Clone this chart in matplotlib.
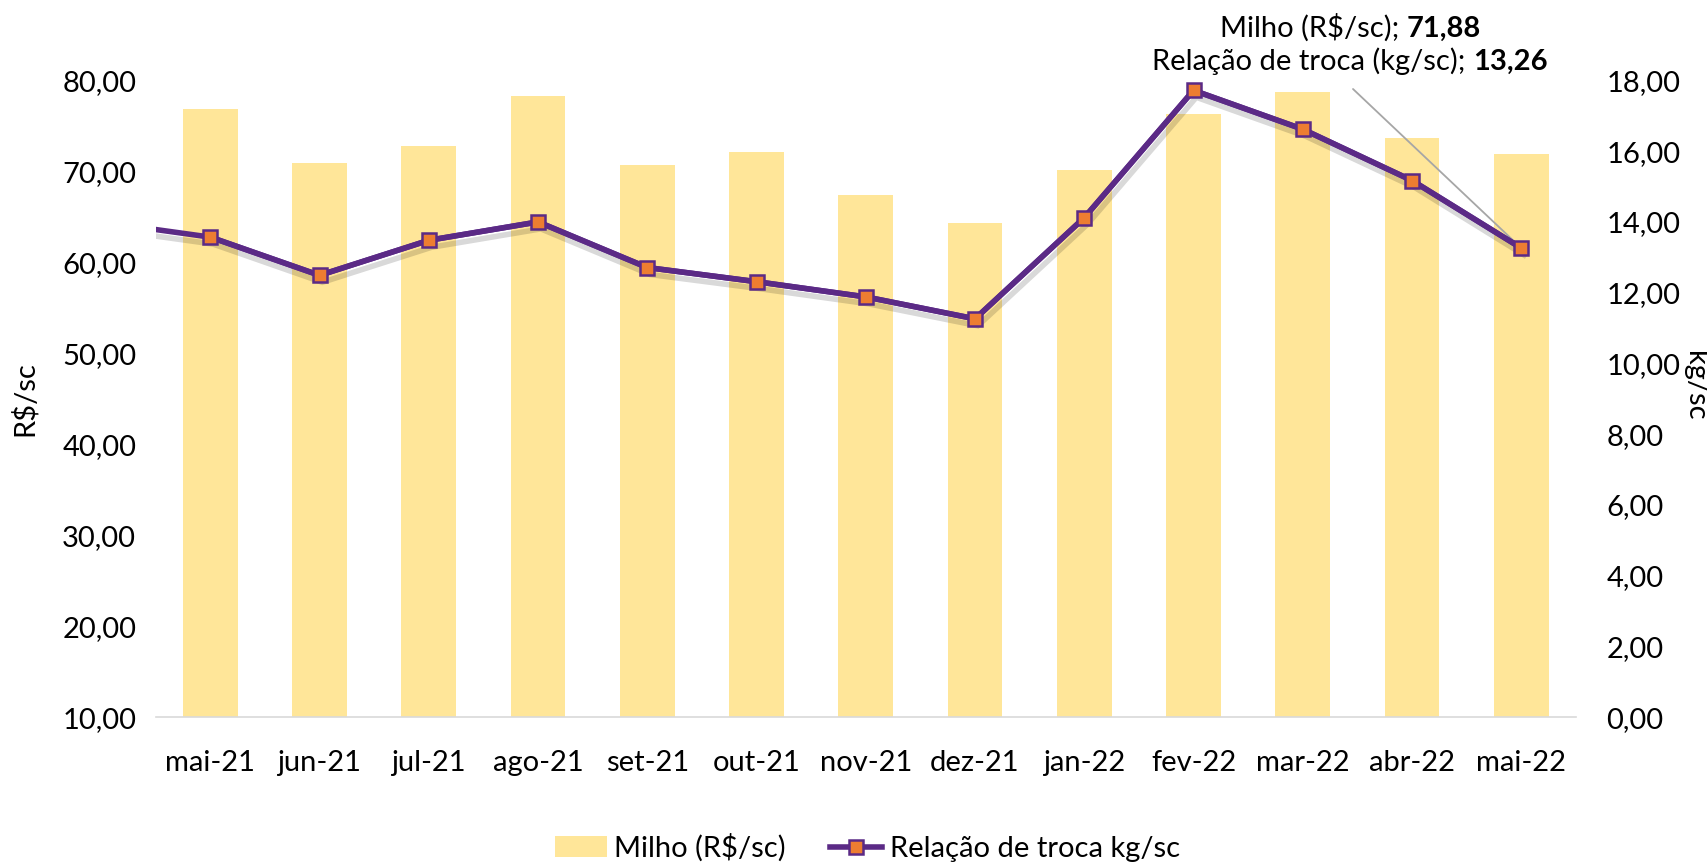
import matplotlib.pyplot as plt
import matplotlib.patheffects as pe
from matplotlib.offsetbox import TextArea, HPacker, VPacker, AnnotationBbox
from matplotlib.ticker import FuncFormatter

plt.rcParams['font.family'] = ['Lato', 'DejaVu Sans']

months = ['mai-21', 'jun-21', 'jul-21', 'ago-21', 'set-21', 'out-21', 'nov-21',
          'dez-21', 'jan-22', 'fev-22', 'mar-22', 'abr-22', 'mai-22']
milho = [76.9, 70.9, 72.8, 78.3, 70.7, 72.1, 67.4, 64.3, 70.2, 76.3, 78.7, 73.7, 71.88]
troca = [13.57, 12.49, 13.48, 14.00, 12.71, 12.31, 11.88, 11.26, 14.12, 17.72, 16.62, 15.17, 13.26]
troca_prev = 14.0  # abr-21, only the stub at the left edge shows

BAR = '#FFE699'
PURPLE = '#5B2A86'
ORANGE = '#ED7D31'
FS = 21

fig = plt.figure(figsize=(17.07, 8.65), dpi=100)
ax = fig.add_axes([0.0912, 0.171, 0.832, 0.736])
ax2 = ax.twinx()

x = list(range(len(months)))
ax.bar(x, milho, width=0.5, color=BAR, label='Milho (R$/sc)', zorder=1)

shadow = [pe.SimpleLineShadow(offset=(2, -5), shadow_color='black', alpha=0.15), pe.Normal()]
ax2.plot([-1] + x, [troca_prev] + troca, color=PURPLE, lw=4, zorder=3,
         path_effects=shadow, solid_joinstyle='miter')
ax2.plot(x, troca, color=PURPLE, lw=4, marker='s', ms=10, mfc=ORANGE,
         mec=PURPLE, mew=1.8, label='Relação de troca kg/sc', zorder=4)

ax.set_xlim(-0.5, 12.5)
ax.set_ylim(10, 80)
ax2.set_ylim(0, 18)
ax.set_yticks(range(10, 81, 10))
ax2.set_yticks(range(0, 19, 2))

fmt = FuncFormatter(lambda v, p: f'{v:.2f}'.replace('.', ','))
ax.yaxis.set_major_formatter(fmt)
ax2.yaxis.set_major_formatter(fmt)

ax.set_xticks(x)
ax.set_xticklabels(months)

for a in (ax, ax2):
    for s in a.spines.values():
        s.set_visible(False)
ax.spines['bottom'].set_visible(True)
ax.spines['bottom'].set_color('#D9D9D9')
ax.spines['bottom'].set_linewidth(1.2)

ax.tick_params(axis='x', length=0, pad=24, labelsize=FS)
ax.tick_params(axis='y', length=0, pad=14, labelsize=FS)
ax2.tick_params(axis='y', length=0, pad=22, labelsize=FS)

ax.set_ylabel('R$/sc', fontsize=FS)
ax.yaxis.set_label_coords(-0.083, 0.5)
ax2.set_ylabel('kg/sc', fontsize=FS, rotation=-90, va='center')
ax2.yaxis.set_label_coords(1.084, 0.52)

# annotation for the last point
norm = dict(size=FS, color='black')
bold = dict(size=FS, color='black', weight='bold')
l1 = HPacker(children=[TextArea('Milho (R$/sc); ', textprops=norm),
                       TextArea('71,88', textprops=bold)], align='baseline', pad=0, sep=0)
l2 = HPacker(children=[TextArea('Relação de troca (kg/sc); ', textprops=norm),
                       TextArea('13,26', textprops=bold)], align='baseline', pad=0, sep=0)
box = VPacker(children=[l1, l2], align='center', pad=0, sep=4)
ab = AnnotationBbox(box, (0.791, 0.949), xycoords='figure fraction', frameon=False,
                    box_alignment=(0.5, 0.5))
fig.add_artist(ab)
ax2.annotate('', xy=(12, troca[-1]), xytext=(1353 / 1707, 1 - 89 / 865),
             textcoords='figure fraction',
             arrowprops=dict(arrowstyle='-', color='#A6A6A6', lw=1.3, shrinkA=0, shrinkB=0),
             zorder=2)

h1, lb1 = ax.get_legend_handles_labels()
h2, lb2 = ax2.get_legend_handles_labels()
fig.legend(h1 + h2, lb1 + lb2, loc='center', bbox_to_anchor=(0.508, 0.02),
           ncol=2, frameon=False, fontsize=FS, handlelength=1.8,
           handletextpad=0.25, columnspacing=1.5)

fig.savefig('out.png', dpi=100)
